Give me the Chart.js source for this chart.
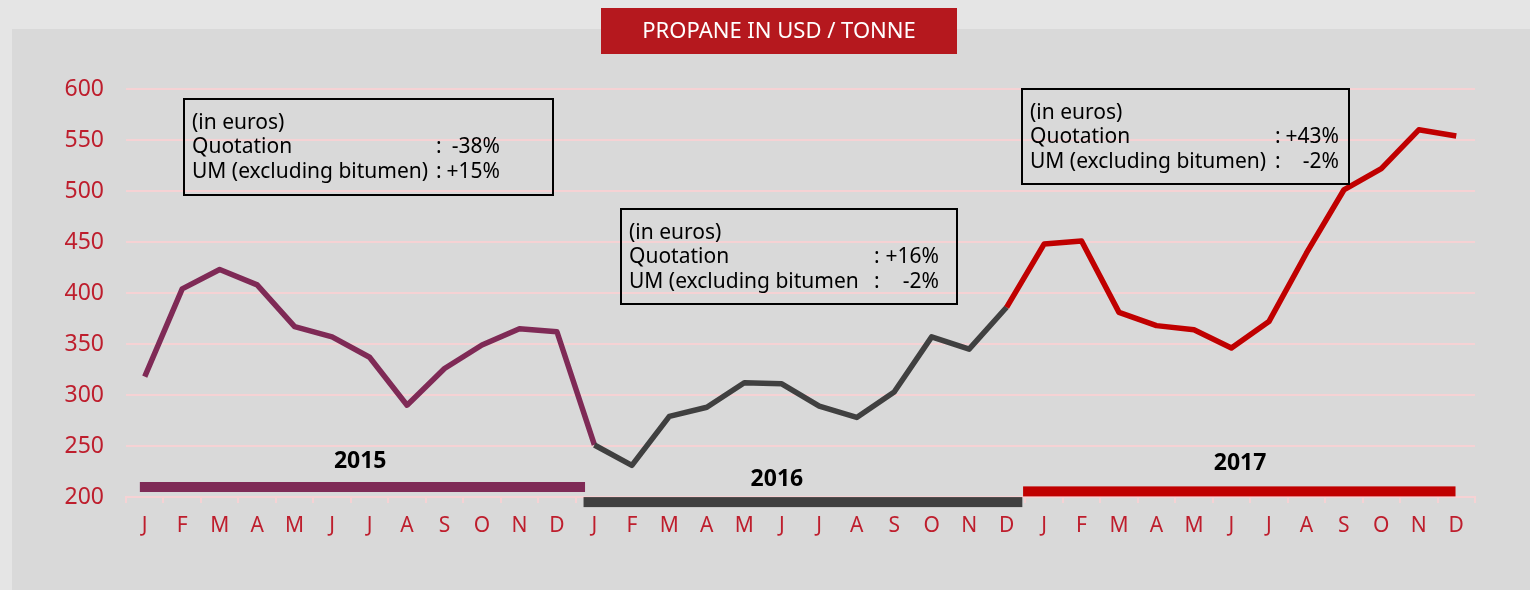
<!DOCTYPE html>
<html>
<head>
<meta charset="utf-8">
<script src="https://cdn.jsdelivr.net/npm/chart.js@4"></script>
<style>
  html, body { margin: 0; padding: 0; background: #e5e5e5; }
  canvas { display: block; }
</style>
</head>
<body>
<canvas id="propane" width="1530" height="590"></canvas>
<script>
// months repeated for the three years
const months = ['J', 'F', 'M', 'A', 'M', 'J', 'J', 'A', 'S', 'O', 'N', 'D'];
const years = ['2015', '2016', '2017'];

// monthly propane price, USD / tonne
const prices2015 = [318, 404, 423, 408, 367, 357, 337, 290, 326, 349, 365, 362];
const prices2016 = [251, 231, 279, 288, 312, 311, 289, 278, 303, 357, 345, 386];
const prices2017 = [448, 451, 381, 368, 364, 346, 372, 439, 501, 522, 560, 554];

const yTicks = [200, 250, 300, 350, 400, 450, 500, 550, 600];

// text of the three comment boxes
const notes = [
    { head: '(in euros)', rows: [['Quotation', ':', '-38%'], ['UM (excluding bitumen)', ':', '+15%']] },
    { head: '(in euros)', rows: [['Quotation', ':', '+16%'], ['UM (excluding bitumen ', ':', '-2%']] },
    { head: '(in euros)', rows: [['Quotation', ':', '+43%'], ['UM (excluding bitumen)', ':', '-2%']] }
];

const labels = [].concat(months, months, months);
const prices = [].concat(prices2015, prices2016, prices2017);

const PURPLE = '#7f2a56';
const GREY = '#404040';
const RED = '#c00000';
const TICK_RED = '#be1e2d';
const GRID = '#f6d2d4';
const FONT = "'Noto Sans', sans-serif";

// layout of the annotations (pixels / category index)
const boxLayout = [
    { x: 184, y: 99, w: 369, h: 96, colon: 252, right: 316 },
    { x: 621, y: 209, w: 336, h: 95, colon: 253, right: 318 },
    { x: 1022, y: 89, w: 327, h: 95, colon: 253, right: 317 }
];
const yearBars = [
    { from: -0.13, to: 11.75, level: 209.8, color: PURPLE, textAt: 5.75, textY: 468 },
    { from: 11.71, to: 23.42, level: 195, color: GREY, textAt: 16.87, textY: 486 },
    { from: 23.44, to: 34.98, level: 205.5, color: RED, textAt: 29.23, textY: 470 }
];

const decor = {
    id: 'decor',
    beforeDraw(chart) {
        const c = chart.ctx;
        c.save();
        c.fillStyle = '#e5e5e5';
        c.fillRect(0, 0, chart.width, chart.height);
        c.fillStyle = '#d9d9d9';
        c.fillRect(12, 29, chart.width - 12, chart.height - 29);
        // title banner
        c.fillStyle = '#b5181e';
        c.fillRect(601, 8, 356, 46);
        c.fillStyle = '#ffffff';
        c.font = '22px ' + FONT;
        c.textAlign = 'center';
        c.textBaseline = 'alphabetic';
        c.fillText('PROPANE IN USD / TONNE', 779, 38);
        c.restore();
    },
    afterDraw(chart) {
        const c = chart.ctx;
        const xs = chart.scales.x, ys = chart.scales.y;
        c.save();
        // year bars under the axis
        yearBars.forEach((b, i) => {
            const x0 = xs.getPixelForValue(b.from);
            const x1 = xs.getPixelForValue(b.to);
            const yc = ys.getPixelForValue(b.level);
            c.fillStyle = b.color;
            c.fillRect(x0, yc - 5, x1 - x0, 10);
            c.fillStyle = '#000';
            c.font = 'bold 23px ' + FONT;
            c.textAlign = 'center';
            c.fillText(years[i], xs.getPixelForValue(b.textAt), b.textY);
        });
        // comment boxes
        notes.forEach((n, i) => {
            const b = boxLayout[i];
            c.strokeStyle = '#000';
            c.lineWidth = 2;
            c.strokeRect(b.x, b.y, b.w, b.h);
            c.fillStyle = '#000';
            c.font = '21px ' + FONT;
            c.textAlign = 'left';
            c.fillText(n.head, b.x + 8, b.y + 30);
            n.rows.forEach((r, k) => {
                const by = b.y + 54 + k * 24.5;
                c.textAlign = 'left';
                c.fillText(r[0], b.x + 8, by);
                c.fillText(r[1], b.x + b.colon, by);
                c.textAlign = 'right';
                c.fillText(r[2], b.x + b.right, by);
            });
        });
        c.restore();
    }
};

new Chart(document.getElementById('propane'), {
    type: 'line',
    data: {
        labels: labels,
        datasets: [{
            label: 'Propane',
            data: prices,
            borderColor: PURPLE,
            borderWidth: 5.5,
            borderJoinStyle: 'round',
            pointRadius: 0,
            tension: 0,
            segment: {
                borderColor: ctx => ctx.p0DataIndex < 12 ? PURPLE : (ctx.p0DataIndex < 23 ? GREY : RED)
            }
        }]
    },
    options: {
        responsive: false,
        devicePixelRatio: 1,
        animation: false,
        layout: { padding: { left: 0, right: 55, top: 89, bottom: 43 } },
        plugins: {
            legend: { display: false },
            tooltip: { enabled: false }
        },
        scales: {
            x: {
                offset: true,
                afterFit: s => { s.height = 50; },
                grid: { drawOnChartArea: false, drawTicks: true, tickLength: 6, color: GRID, lineWidth: 2, offset: true },
                border: { display: true, color: GRID, width: 2 },
                ticks: { color: TICK_RED, font: { family: FONT, size: 21 }, padding: 10, maxRotation: 0, autoSkip: false }
            },
            y: {
                min: 200,
                max: 600,
                afterFit: s => { s.width = 126; },
                afterBuildTicks: s => { s.ticks = yTicks.map(v => ({ value: v })); },
                grid: { color: GRID, lineWidth: 2, drawTicks: false },
                border: { display: false },
                ticks: { color: TICK_RED, font: { family: FONT, size: 23 }, padding: 22 }
            }
        }
    },
    plugins: [decor]
});
</script>
</body>
</html>
